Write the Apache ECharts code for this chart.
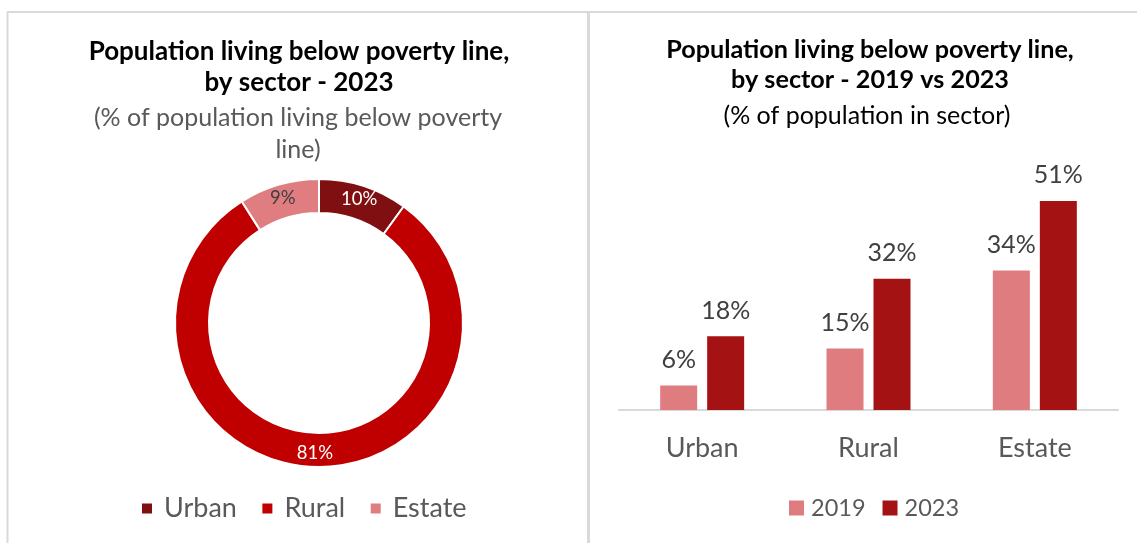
<!DOCTYPE html>
<html>
<head>
<meta charset="utf-8">
<script src="https://cdn.jsdelivr.net/npm/echarts@6/dist/echarts.min.js"></script>
<style>
  html, body { margin: 0; padding: 0; background: #ffffff; }
  #chart { width: 1137px; height: 543px; }
</style>
</head>
<body>
<div id="chart"></div>
<script>
// Share of the poor population by sector, 2023 (donut)
const shareSectors = ['Urban', 'Rural', 'Estate'];
const shareValues = [10, 81, 9];
const shareColors = ['#7F0F10', '#C00000', '#DF7D80'];

// Poverty headcount within each sector, 2019 vs 2023 (bars)
const sectors = ['Urban', 'Rural', 'Estate'];
const years = ['2019', '2023'];
const rate2019 = [6, 15, 34];
const rate2023 = [18, 32, 51];
const yearColors = ['#DF7C80', '#A51214'];

const FONT = 'Lato, "Open Sans", sans-serif';

const chart = echarts.init(document.getElementById('chart'), null, { renderer: 'canvas' });

const pieData = shareSectors.map((name, i) => ({
  name: name,
  value: shareValues[i],
  itemStyle: { color: shareColors[i] },
  label: { color: i === 2 ? '#404040' : '#ffffff' }
}));

const barLabel = { show: true, position: 'top', distance: 13, formatter: '{c}%', fontFamily: FONT, fontSize: 25, color: '#404040' };

// one heading line, centred on x
function heading(text, x, top, size, weight, color) {
  return {
    text: text, left: x, top: top, textAlign: 'center',
    textStyle: { fontFamily: FONT, fontWeight: weight, fontSize: size, lineHeight: 32, color: color }
  };
}

chart.setOption({
  backgroundColor: '#ffffff',
  animation: false,
  textStyle: { fontFamily: FONT },
  title: [
    heading('Population living below poverty line,', 294, 31, 26, 'bold', '#000000'),
    heading('by sector - 2023', 294, 62, 26, 'bold', '#000000'),
    {
      text: '(% of population living below poverty\nline)',
      left: 293, top: 97, textAlign: 'center',
      textStyle: { fontFamily: FONT, fontWeight: 'normal', fontSize: 25, lineHeight: 32, color: '#595959' }
    },
    heading('Population living below poverty line,', 865, 29, 25.2, 'bold', '#000000'),
    heading('by sector - 2019 vs 2023', 865, 59, 25.2, 'bold', '#000000'),
    heading('(% of population in sector)', 862, 95, 25, 'normal', '#000000')
  ],
  legend: [
    {
      data: shareSectors,
      left: 140, top: 495, padding: 0,
      orient: 'horizontal',
      icon: 'rect', itemWidth: 12, itemHeight: 12, itemGap: 23.5,
      textStyle: { fontFamily: FONT, fontSize: 27, color: '#595959', padding: [0, 0, 0, 6] }
    },
    {
      data: years,
      left: 789, top: 496, padding: 0,
      orient: 'horizontal',
      icon: 'rect', itemWidth: 15, itemHeight: 15, itemGap: 17,
      textStyle: { fontFamily: FONT, fontSize: 23.5, color: '#595959', padding: [0, 0, 0, 2] }
    }
  ],
  grid: { left: 619, right: 19, top: 164, bottom: 133, containLabel: false },
  xAxis: {
    type: 'category',
    data: sectors,
    axisLine: { lineStyle: { color: '#D9D9D9', width: 2 } },
    axisTick: { show: false },
    axisLabel: { fontFamily: FONT, fontSize: 27, color: '#595959', margin: 25 }
  },
  yAxis: {
    type: 'value', min: 0, max: 60, interval: 10,
    show: false,
    splitLine: { show: false }
  },
  series: [
    {
      type: 'pie',
      center: [319, 323],
      radius: [110, 144],
      startAngle: 90,
      clockwise: true,
      avoidLabelOverlap: false,
      itemStyle: { borderColor: '#ffffff', borderWidth: 2 },
      label: {
        show: true, position: 'inside',
        formatter: '{c}%', fontFamily: FONT, fontSize: 18.5
      },
      labelLine: { show: false },
      data: pieData
    },
    {
      name: years[0],
      type: 'bar',
      data: rate2019,
      barWidth: 37,
      barGap: '27%',
      itemStyle: { color: yearColors[0] },
      label: barLabel
    },
    {
      name: years[1],
      type: 'bar',
      data: rate2023,
      barWidth: 37,
      barGap: '27%',
      itemStyle: { color: yearColors[1] },
      label: barLabel
    }
  ],
  graphic: [
    // panel frames
    { type: 'line', shape: { x1: 7, y1: 12, x2: 1137, y2: 12 }, style: { stroke: '#D9D9D9', lineWidth: 2 }, silent: true },
    { type: 'line', shape: { x1: 7.5, y1: 12, x2: 7.5, y2: 543 }, style: { stroke: '#D9D9D9', lineWidth: 2 }, silent: true },
    { type: 'line', shape: { x1: 588.5, y1: 12, x2: 588.5, y2: 543 }, style: { stroke: '#D9D9D9', lineWidth: 3 }, silent: true }
  ]
});
</script>
</body>
</html>
